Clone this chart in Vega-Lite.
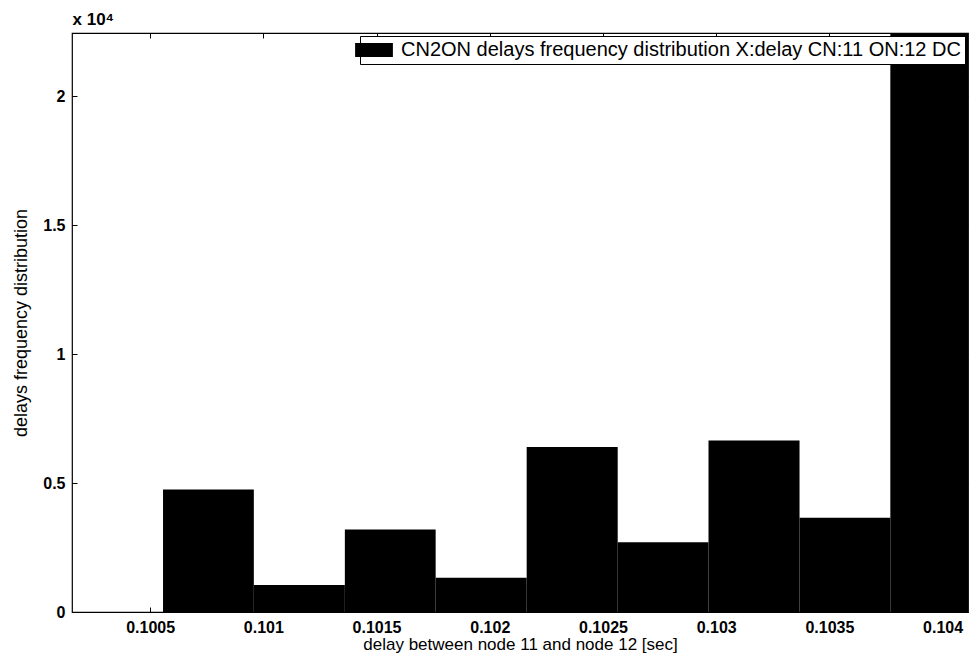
{
  "$schema": "https://vega.github.io/schema/vega-lite/v6.json",
  "width": 896,
  "height": 579,
  "autosize": "none",
  "padding": {"left": 72, "top": 33, "right": 2, "bottom": 56},
  "background": "white",
  "config": {
    "view": {"stroke": "black", "strokeWidth": 1.2},
    "font": "Liberation Sans",
    "axis": {"domain": false, "grid": false, "tickColor": "black", "labelColor": "black", "titleColor": "black"}
  },
  "data": {
    "values": [
      {"lo": 0.100155, "hi": 0.100557, "count": 0},
      {"lo": 0.100557, "hi": 0.100958, "count": 4750},
      {"lo": 0.100958, "hi": 0.101360, "count": 1050},
      {"lo": 0.101360, "hi": 0.101761, "count": 3200},
      {"lo": 0.101761, "hi": 0.102163, "count": 1330},
      {"lo": 0.102163, "hi": 0.102565, "count": 6400},
      {"lo": 0.102565, "hi": 0.102966, "count": 2700},
      {"lo": 0.102966, "hi": 0.103368, "count": 6650},
      {"lo": 0.103368, "hi": 0.103769, "count": 3650},
      {"lo": 0.103769, "hi": 0.104171, "count": 30000}
    ]
  },
  "layer": [
    {
      "mark": {"type": "rect", "clip": true},
      "encoding": {
        "x": {
          "field": "lo", "type": "quantitative",
          "scale": {"domain": [0.100155, 0.104112], "zero": false, "nice": false},
          "axis": {
            "orient": "bottom",
            "values": [0.1005, 0.101, 0.1015, 0.102, 0.1025, 0.103, 0.1035, 0.104],
            "format": ".4~f",
            "tickSize": -5,
            "labelPadding": 12,
            "labelFontSize": 16,
            "labelFontWeight": "bold",
            "title": "delay between node 11 and node 12 [sec]",
            "titleFontSize": 17,
            "titleFontWeight": "normal",
            "titlePadding": 1
          }
        },
        "x2": {"field": "hi"},
        "y": {
          "field": "count", "type": "quantitative",
          "scale": {"domain": [0, 22450], "nice": false},
          "axis": {
            "orient": "left",
            "values": [0, 5000, 10000, 15000, 20000],
            "labelExpr": "datum.value / 10000",
            "tickSize": -5,
            "labelPadding": 12,
            "labelFontSize": 16,
            "labelFontWeight": "bold",
            "title": "delays frequency distribution",
            "titleFontSize": 18,
            "titleFontWeight": "normal",
            "titlePadding": 12
          }
        },
        "y2": {"datum": 0},
        "fill": {
          "datum": "CN2ON delays frequency distribution X:delay CN:11 ON:12 DC",
          "type": "nominal",
          "scale": {"range": ["black"]},
          "legend": {
            "title": null,
            "orient": "top-right",
            "offset": 3,
            "fillColor": "white",
            "strokeColor": "black",
            "padding": 4,
            "labelFontSize": 20,
            "labelFont": "Liberation Sans",
            "labelColor": "black",
            "labelLimit": 0,
            "labelOffset": 17,
            "symbolType": "M-2.7,-1H2.7V1H-2.7Z",
            "symbolSize": 196,
            "symbolStrokeWidth": 0
          }
        }
      }
    },
    {
      "mark": {"type": "rect", "opacity": 0},
      "encoding": {
        "x": {
          "field": "lo", "type": "quantitative",
          "axis": {
            "orient": "top",
            "values": [0.1005, 0.101, 0.1015, 0.102, 0.1025, 0.103, 0.1035, 0.104],
            "labels": false,
            "tickSize": -5,
            "title": "x 10⁴",
            "titleFontSize": 17,
            "titleFontWeight": "bold",
            "titleAnchor": "start",
            "titleAlign": "left",
            "titleBaseline": "alphabetic",
            "titleX": 0,
            "titleY": -9
          }
        },
        "x2": {"field": "hi"},
        "y": {
          "field": "count", "type": "quantitative",
          "axis": {"orient": "right", "values": [0, 5000, 10000, 15000, 20000], "labels": false, "tickSize": -5, "title": null}
        },
        "y2": {"datum": 0}
      }
    }
  ],
  "resolve": {"axis": {"x": "independent", "y": "independent"}}
}
